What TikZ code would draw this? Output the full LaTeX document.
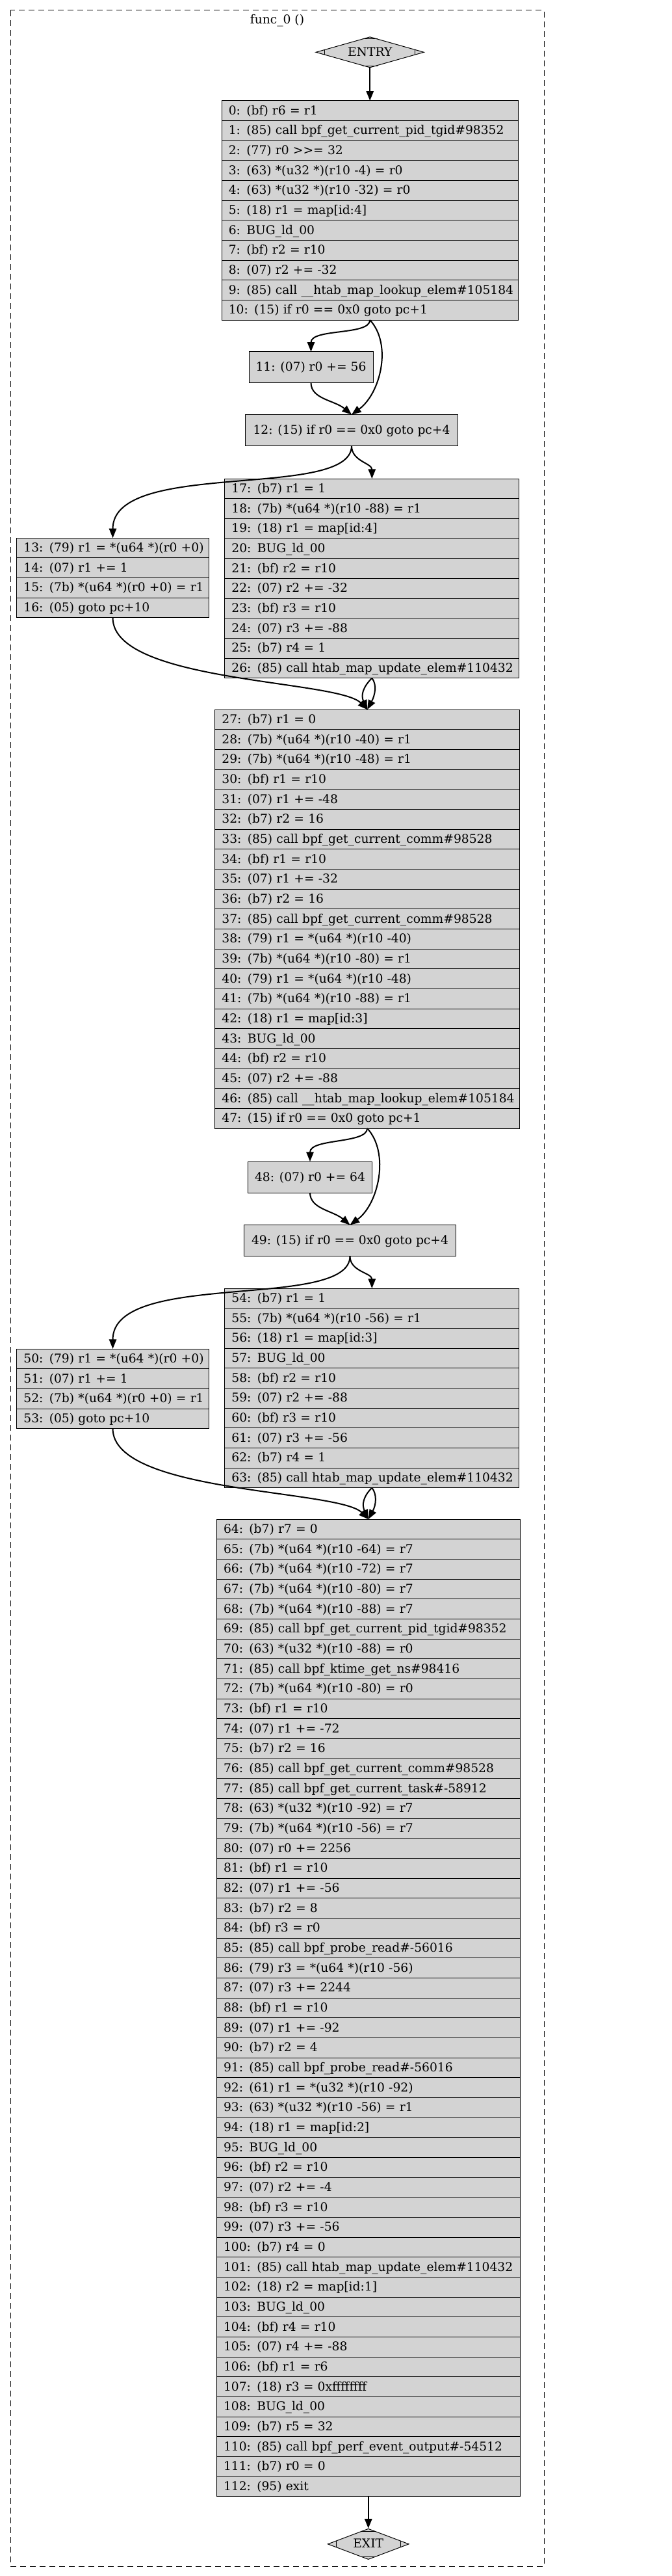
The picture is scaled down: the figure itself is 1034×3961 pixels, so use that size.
\documentclass[tikz,border=0pt]{standalone}
\usepackage{fontspec}
\setmainfont{DejaVu Serif}
\usetikzlibrary{shapes.geometric,arrows.meta,positioning,calc}
\definecolor{cfgfill}{RGB}{211,211,211}
\newcommand{\mdticks}[1]{%
  \draw[mtick] ($(#1.west)!11pt!(#1.north)$) -- ($(#1.west)!11pt!(#1.south)$);
  \draw[mtick] ($(#1.east)!11pt!(#1.north)$) -- ($(#1.east)!11pt!(#1.south)$);
  \draw[mtick] ($(#1.north)!9pt!(#1.west)$) -- ($(#1.north)!9pt!(#1.east)$);
  \draw[mtick] ($(#1.south)!9pt!(#1.west)$) -- ($(#1.south)!9pt!(#1.east)$);}

\begin{document}
\begin{tikzpicture}[
    x=0.75pt, y=-0.75pt,
    font=\fontsize{14pt}{16.8pt}\selectfont,
    insn/.style={rectangle, draw=black, line width=0.75pt, fill=cfgfill,
                 outer sep=0pt, inner xsep=8pt, inner ysep=2pt, minimum height=23pt,
                 text height=11.5pt, text depth=2.5pt, align=left,
                 execute at begin node=\leavevmode\hbox\bgroup,
                 execute at end node=\egroup},
    headrow/.style={insn, text width=326pt},
    hitrow/.style={insn, text width=205.6pt},
    updrow/.style={insn, text width=323.75pt},
    midrow/.style={insn, text width=335.4pt},
    tailrow/.style={insn, text width=334pt},
    cond/.style={rectangle, draw=black, line width=0.75pt, fill=cfgfill, outer sep=0pt,
                 minimum width=#1, minimum height=36pt, text height=11.5pt, text depth=2.5pt},
    term/.style={diamond, draw=black, line width=0.75pt, fill=cfgfill, inner sep=0pt,
                 shape aspect=3.5, minimum width=#1, minimum height=35.5pt,
                 text height=11.5pt, text depth=2.5pt},
    mtick/.style={line width=0.75pt},
    jmp/.style={-{Triangle[length=11pt,width=8.5pt]}, line width=1.5pt},
    cluster/.style={draw, dash pattern=on 6.75pt off 4.5pt, line width=0.75pt}
]

\path[use as bounding box, fill=white] (0,0) rectangle (1034,3961);
\draw[cluster] (16,16) rectangle (837,3946);
\node (title) at (426.5,32) {func\_0 ()};

\node[term=125pt] (entry) at (569.2,80.3) {ENTRY};
\mdticks{entry}

\node[headrow, below=37.7pt of entry] (i0) {0: (bf) r6 = r1};
\node[headrow, below=0pt of i0] (i1) {1: (85) call bpf\_get\_current\_pid\_tgid\#98352};
\node[headrow, below=0pt of i1] (i2) {2: (77) r0 >{}>= 32};
\node[headrow, below=0pt of i2] (i3) {3: (63) *(u32 *)(r10 -4) = r0};
\node[headrow, below=0pt of i3] (i4) {4: (63) *(u32 *)(r10 -32) = r0};
\node[headrow, below=0pt of i4] (i5) {5: (18) r1 = map[id:4]};
\node[headrow, below=0pt of i5] (i6) {6: BUG\_ld\_00};
\node[headrow, below=0pt of i6] (i7) {7: (bf) r2 = r10};
\node[headrow, below=0pt of i7] (i8) {8: (07) r2 += -32};
\node[headrow, below=0pt of i8] (i9) {9: (85) call \_\_htab\_map\_lookup\_elem\#105184};
\node[headrow, below=0pt of i9] (i10) {10: (15) if r0 == 0x0 goto pc+1};

\node[cond=143.25pt] (i11) at (478.5,564.7) {11: (07) r0 += 56};

\node[cond=245.6pt] (i12) at (541,661.5) {12: (15) if r0 == 0x0 goto pc+4};

\node[hitrow, anchor=north west] (i13) at (25.8,827.3) {13: (79) r1 = *(u64 *)(r0 +0)};
\node[hitrow, below=0pt of i13] (i14) {14: (07) r1 += 1};
\node[hitrow, below=0pt of i14] (i15) {15: (7b) *(u64 *)(r0 +0) = r1};
\node[hitrow, below=0pt of i15] (i16) {16: (05) goto pc+10};

\node[updrow, anchor=north west] (i17) at (345.8,736) {17: (b7) r1 = 1};
\node[updrow, below=0pt of i17] (i18) {18: (7b) *(u64 *)(r10 -88) = r1};
\node[updrow, below=0pt of i18] (i19) {19: (18) r1 = map[id:4]};
\node[updrow, below=0pt of i19] (i20) {20: BUG\_ld\_00};
\node[updrow, below=0pt of i20] (i21) {21: (bf) r2 = r10};
\node[updrow, below=0pt of i21] (i22) {22: (07) r2 += -32};
\node[updrow, below=0pt of i22] (i23) {23: (bf) r3 = r10};
\node[updrow, below=0pt of i23] (i24) {24: (07) r3 += -88};
\node[updrow, below=0pt of i24] (i25) {25: (b7) r4 = 1};
\node[updrow, below=0pt of i25] (i26) {26: (85) call htab\_map\_update\_elem\#110432};

\node[midrow, anchor=north west] (i27) at (330.8,1091) {27: (b7) r1 = 0};
\node[midrow, below=0pt of i27] (i28) {28: (7b) *(u64 *)(r10 -40) = r1};
\node[midrow, below=0pt of i28] (i29) {29: (7b) *(u64 *)(r10 -48) = r1};
\node[midrow, below=0pt of i29] (i30) {30: (bf) r1 = r10};
\node[midrow, below=0pt of i30] (i31) {31: (07) r1 += -48};
\node[midrow, below=0pt of i31] (i32) {32: (b7) r2 = 16};
\node[midrow, below=0pt of i32] (i33) {33: (85) call bpf\_get\_current\_comm\#98528};
\node[midrow, below=0pt of i33] (i34) {34: (bf) r1 = r10};
\node[midrow, below=0pt of i34] (i35) {35: (07) r1 += -32};
\node[midrow, below=0pt of i35] (i36) {36: (b7) r2 = 16};
\node[midrow, below=0pt of i36] (i37) {37: (85) call bpf\_get\_current\_comm\#98528};
\node[midrow, below=0pt of i37] (i38) {38: (79) r1 = *(u64 *)(r10 -40)};
\node[midrow, below=0pt of i38] (i39) {39: (7b) *(u64 *)(r10 -80) = r1};
\node[midrow, below=0pt of i39] (i40) {40: (79) r1 = *(u64 *)(r10 -48)};
\node[midrow, below=0pt of i40] (i41) {41: (7b) *(u64 *)(r10 -88) = r1};
\node[midrow, below=0pt of i41] (i42) {42: (18) r1 = map[id:3]};
\node[midrow, below=0pt of i42] (i43) {43: BUG\_ld\_00};
\node[midrow, below=0pt of i43] (i44) {44: (bf) r2 = r10};
\node[midrow, below=0pt of i44] (i45) {45: (07) r2 += -88};
\node[midrow, below=0pt of i45] (i46) {46: (85) call \_\_htab\_map\_lookup\_elem\#105184};
\node[midrow, below=0pt of i46] (i47) {47: (15) if r0 == 0x0 goto pc+1};

\node[cond=143.25pt] (i48) at (477,1810) {48: (07) r0 += 64};

\node[cond=245pt] (i49) at (538.5,1907.5) {49: (15) if r0 == 0x0 goto pc+4};

\node[hitrow, anchor=north west] (i50) at (25.8,2074) {50: (79) r1 = *(u64 *)(r0 +0)};
\node[hitrow, below=0pt of i50] (i51) {51: (07) r1 += 1};
\node[hitrow, below=0pt of i51] (i52) {52: (7b) *(u64 *)(r0 +0) = r1};
\node[hitrow, below=0pt of i52] (i53) {53: (05) goto pc+10};

\node[updrow, anchor=north west] (i54) at (345.8,1981) {54: (b7) r1 = 1};
\node[updrow, below=0pt of i54] (i55) {55: (7b) *(u64 *)(r10 -56) = r1};
\node[updrow, below=0pt of i55] (i56) {56: (18) r1 = map[id:3]};
\node[updrow, below=0pt of i56] (i57) {57: BUG\_ld\_00};
\node[updrow, below=0pt of i57] (i58) {58: (bf) r2 = r10};
\node[updrow, below=0pt of i58] (i59) {59: (07) r2 += -88};
\node[updrow, below=0pt of i59] (i60) {60: (bf) r3 = r10};
\node[updrow, below=0pt of i60] (i61) {61: (07) r3 += -56};
\node[updrow, below=0pt of i61] (i62) {62: (b7) r4 = 1};
\node[updrow, below=0pt of i62] (i63) {63: (85) call htab\_map\_update\_elem\#110432};

\node[tailrow, anchor=north west] (i64) at (333.4,2336) {64: (b7) r7 = 0};
\node[tailrow, below=0pt of i64] (i65) {65: (7b) *(u64 *)(r10 -64) = r7};
\node[tailrow, below=0pt of i65] (i66) {66: (7b) *(u64 *)(r10 -72) = r7};
\node[tailrow, below=0pt of i66] (i67) {67: (7b) *(u64 *)(r10 -80) = r7};
\node[tailrow, below=0pt of i67] (i68) {68: (7b) *(u64 *)(r10 -88) = r7};
\node[tailrow, below=0pt of i68] (i69) {69: (85) call bpf\_get\_current\_pid\_tgid\#98352};
\node[tailrow, below=0pt of i69] (i70) {70: (63) *(u32 *)(r10 -88) = r0};
\node[tailrow, below=0pt of i70] (i71) {71: (85) call bpf\_ktime\_get\_ns\#98416};
\node[tailrow, below=0pt of i71] (i72) {72: (7b) *(u64 *)(r10 -80) = r0};
\node[tailrow, below=0pt of i72] (i73) {73: (bf) r1 = r10};
\node[tailrow, below=0pt of i73] (i74) {74: (07) r1 += -72};
\node[tailrow, below=0pt of i74] (i75) {75: (b7) r2 = 16};
\node[tailrow, below=0pt of i75] (i76) {76: (85) call bpf\_get\_current\_comm\#98528};
\node[tailrow, below=0pt of i76] (i77) {77: (85) call bpf\_get\_current\_task\#-58912};
\node[tailrow, below=0pt of i77] (i78) {78: (63) *(u32 *)(r10 -92) = r7};
\node[tailrow, below=0pt of i78] (i79) {79: (7b) *(u64 *)(r10 -56) = r7};
\node[tailrow, below=0pt of i79] (i80) {80: (07) r0 += 2256};
\node[tailrow, below=0pt of i80] (i81) {81: (bf) r1 = r10};
\node[tailrow, below=0pt of i81] (i82) {82: (07) r1 += -56};
\node[tailrow, below=0pt of i82] (i83) {83: (b7) r2 = 8};
\node[tailrow, below=0pt of i83] (i84) {84: (bf) r3 = r0};
\node[tailrow, below=0pt of i84] (i85) {85: (85) call bpf\_probe\_read\#-56016};
\node[tailrow, below=0pt of i85] (i86) {86: (79) r3 = *(u64 *)(r10 -56)};
\node[tailrow, below=0pt of i86] (i87) {87: (07) r3 += 2244};
\node[tailrow, below=0pt of i87] (i88) {88: (bf) r1 = r10};
\node[tailrow, below=0pt of i88] (i89) {89: (07) r1 += -92};
\node[tailrow, below=0pt of i89] (i90) {90: (b7) r2 = 4};
\node[tailrow, below=0pt of i90] (i91) {91: (85) call bpf\_probe\_read\#-56016};
\node[tailrow, below=0pt of i91] (i92) {92: (61) r1 = *(u32 *)(r10 -92)};
\node[tailrow, below=0pt of i92] (i93) {93: (63) *(u32 *)(r10 -56) = r1};
\node[tailrow, below=0pt of i93] (i94) {94: (18) r1 = map[id:2]};
\node[tailrow, below=0pt of i94] (i95) {95: BUG\_ld\_00};
\node[tailrow, below=0pt of i95] (i96) {96: (bf) r2 = r10};
\node[tailrow, below=0pt of i96] (i97) {97: (07) r2 += -4};
\node[tailrow, below=0pt of i97] (i98) {98: (bf) r3 = r10};
\node[tailrow, below=0pt of i98] (i99) {99: (07) r3 += -56};
\node[tailrow, below=0pt of i99] (i100) {100: (b7) r4 = 0};
\node[tailrow, below=0pt of i100] (i101) {101: (85) call htab\_map\_update\_elem\#110432};
\node[tailrow, below=0pt of i101] (i102) {102: (18) r2 = map[id:1]};
\node[tailrow, below=0pt of i102] (i103) {103: BUG\_ld\_00};
\node[tailrow, below=0pt of i103] (i104) {104: (bf) r4 = r10};
\node[tailrow, below=0pt of i104] (i105) {105: (07) r4 += -88};
\node[tailrow, below=0pt of i105] (i106) {106: (bf) r1 = r6};
\node[tailrow, below=0pt of i106] (i107) {107: (18) r3 = 0xffffffff};
\node[tailrow, below=0pt of i107] (i108) {108: BUG\_ld\_00};
\node[tailrow, below=0pt of i108] (i109) {109: (b7) r5 = 32};
\node[tailrow, below=0pt of i109] (i110) {110: (85) call bpf\_perf\_event\_output\#-54512};
\node[tailrow, below=0pt of i110] (i111) {111: (b7) r0 = 0};
\node[tailrow, below=0pt of i111] (i112) {112: (95) exit};

\node[term=93.75pt, below=36.75pt of i112] (exit) {EXIT};
\mdticks{exit}

\draw[jmp] (entry) -- (i0);
\draw[jmp] (i10.south) .. controls +(0,24) and +(0,-36) .. (i11.north);
\draw[jmp] (i10.south) .. controls +(35,38) and +(44,-32) .. (i12.north);
\draw[jmp] (i11.south) .. controls +(0,25) and +(-26,-22) .. (i12.north);
\draw[jmp] (i12.south) .. controls +(0,24) and +(0,-24) .. (i17.north);
\draw[jmp] (i12.south) .. controls +(0,84) and +(0,-122) .. (i13.north);
\draw[jmp] (i16.south) .. controls +(0,100) and +(-45,-46) .. (i27.north);
\draw[jmp] (i26.south) .. controls +(-14,14) and +(-10,-22) .. (i27.north);
\draw[jmp] (i26.south) .. controls +(8,10) and +(12,-22) .. (i27.north);
\draw[jmp] (i47.south) .. controls +(0,24) and +(0,-36) .. (i48.north);
\draw[jmp] (i47.south) .. controls +(35,38) and +(44,-32) .. (i49.north);
\draw[jmp] (i48.south) .. controls +(0,25) and +(-26,-22) .. (i49.north);
\draw[jmp] (i49.south) .. controls +(0,24) and +(0,-24) .. (i54.north);
\draw[jmp] (i49.south) .. controls +(0,84) and +(0,-122) .. (i50.north);
\draw[jmp] (i53.south) .. controls +(0,100) and +(-45,-46) .. (i64.north);
\draw[jmp] (i63.south) .. controls +(-14,14) and +(-10,-22) .. (i64.north);
\draw[jmp] (i63.south) .. controls +(8,10) and +(12,-22) .. (i64.north);
\draw[jmp] (i112) -- (exit);

\end{tikzpicture}
\end{document}
